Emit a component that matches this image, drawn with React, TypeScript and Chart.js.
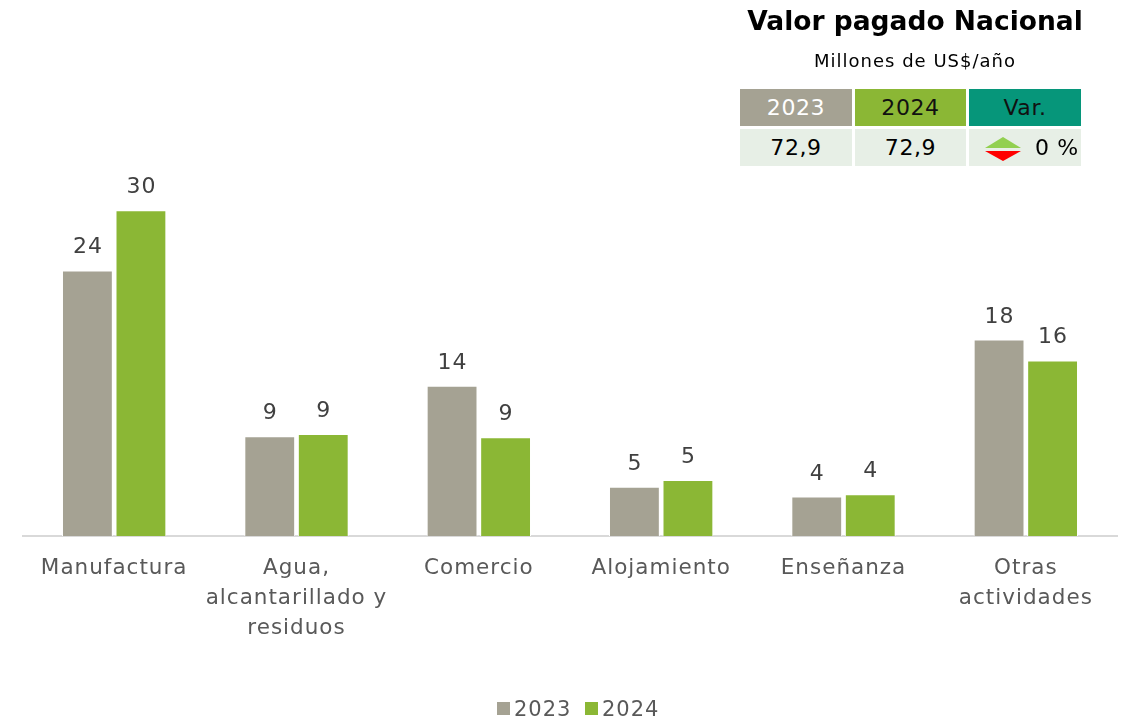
import React, { useEffect, useRef } from "react";
import { Chart, registerables } from "chart.js";

Chart.register(...registerables);

const categories: (string | string[])[] = [
  "Manufactura",
  ["Agua,", "alcantarillado y", "residuos"],
  "Comercio",
  "Alojamiento",
  "Enseñanza",
  ["Otras", "actividades"],
];
const values2023 = [24.2, 9.1, 13.7, 4.5, 3.6, 17.9];
const values2024 = [29.7, 9.3, 9.0, 5.1, 3.8, 16.0];
const seriesLabels = ["2023", "2024"];
const total2023 = "72,9";
const total2024 = "72,9";
const variation = "0 %";
const tableTitle = "Valor pagado Nacional";
const tableSubtitle = "Millones de US$/año";

const GRAY = "#A5A293";
const GREEN = "#8BB735";
const TEAL = "#06967A";
const LABEL_FONT = "'DejaVu Sans', sans-serif";

const spacingPlugin = {
  id: "letterSpacing",
  beforeInit(chart: any) {
    chart.ctx.letterSpacing = "1px";
  },
  beforeDraw(chart: any) {
    chart.ctx.letterSpacing = "1px";
  },
};

const dataLabelPlugin = {
  id: "dataLabels",
  afterDatasetsDraw(chart: any) {
    const ctx = chart.ctx;
    ctx.save();
    ctx.letterSpacing = "1px";
    ctx.font = `22px ${LABEL_FONT}`;
    ctx.fillStyle = "#404040";
    ctx.textAlign = "center";
    ctx.textBaseline = "alphabetic";
    chart.data.datasets.forEach((ds: any, di: number) => {
      const meta = chart.getDatasetMeta(di);
      meta.data.forEach((el: any, i: number) => {
        const v = ds.data[i];
        ctx.fillText(String(Math.round(v)), el.x + 0.5, el.y - 17);
      });
    });
    ctx.restore();
  },
};

export default function App() {
  const canvasRef = useRef<HTMLCanvasElement>(null);

  useEffect(() => {
    if (!canvasRef.current) return;
    const chart = new Chart(canvasRef.current, {
      type: "bar",
      data: {
        labels: categories as any,
        datasets: [
          {
            label: seriesLabels[0],
            data: values2023,
            backgroundColor: GRAY,
            borderColor: "#ffffff",
            borderWidth: 1,
            categoryPercentage: 0.587,
            barPercentage: 0.95,
          },
          {
            label: seriesLabels[1],
            data: values2024,
            backgroundColor: GREEN,
            borderColor: "#ffffff",
            borderWidth: 1,
            categoryPercentage: 0.587,
            barPercentage: 0.95,
          },
        ],
      },
      options: {
        responsive: false,
        animation: false,
        layout: { padding: { top: 152, left: 23, right: 18, bottom: 0 } },
        plugins: {
          legend: { display: false },
          tooltip: { enabled: false },
          title: { display: false },
        },
        scales: {
          x: {
            grid: { display: false, drawTicks: false },
            border: { display: true, color: "#D9D9D9", width: 2 },
            ticks: {
              color: "#595959",
              font: { family: LABEL_FONT, size: 21.5, lineHeight: 1.4 },
              padding: 17,
              maxRotation: 0,
              autoSkip: false,
            },
            afterFit(scale: any) {
              scale.height = 182;
            },
          },
          y: {
            display: false,
            min: 0,
            max: 35,
          },
        },
      },
      plugins: [spacingPlugin, dataLabelPlugin],
    });
    return () => chart.destroy();
  }, []);

  const cell: React.CSSProperties = {
    position: "absolute",
    height: 37,
    display: "flex",
    alignItems: "center",
    justifyContent: "center",
    fontFamily: LABEL_FONT,
    fontSize: 22,
    letterSpacing: "0.6px",
  };

  const legendText: React.CSSProperties = {
    position: "absolute",
    top: 696,
    fontFamily: LABEL_FONT,
    fontSize: 21,
    letterSpacing: "1px",
    color: "#595959",
    lineHeight: "26px",
  };

  return (
    <div style={{ position: "fixed", left: 0, top: 0, width: 1135, height: 718, background: "#fff" }}>
      <canvas ref={canvasRef} width={1135} height={718} style={{ display: "block" }} />
      <div
        style={{
          position: "absolute",
          left: 700,
          width: 430,
          top: 5,
          textAlign: "center",
          fontFamily: "'DejaVu Sans', sans-serif",
          fontWeight: "bold",
          fontSize: 26.5,
          color: "#000",
        }}
      >
        {tableTitle}
      </div>
      <div
        style={{
          position: "absolute",
          left: 700,
          width: 430,
          top: 50,
          textAlign: "center",
          fontFamily: LABEL_FONT,
          fontSize: 18,
          letterSpacing: "1px",
          color: "#000",
        }}
      >
        {tableSubtitle}
      </div>
      <div style={{ ...cell, left: 740, top: 89, width: 112, background: GRAY, color: "#fff" }}>{seriesLabels[0]}</div>
      <div style={{ ...cell, left: 855, top: 89, width: 111, background: GREEN, color: "#111" }}>{seriesLabels[1]}</div>
      <div style={{ ...cell, left: 969, top: 89, width: 112, background: TEAL, color: "#111" }}>Var.</div>
      <div style={{ ...cell, left: 740, top: 129, width: 112, background: "#E7EFE6", color: "#000" }}>{total2023}</div>
      <div style={{ ...cell, left: 855, top: 129, width: 111, background: "#E7EFE6", color: "#000" }}>{total2024}</div>
      <div style={{ ...cell, left: 969, top: 129, width: 112, background: "#E7EFE6", color: "#000", justifyContent: "flex-start" }}>
        <svg width={36} height={26} style={{ marginLeft: 16 }} viewBox="0 0 36 26">
          <polygon points="0,13 18,2 36,13" fill="#92D050" />
          <polygon points="0,16 36,16 18,26" fill="#FF0000" />
        </svg>
        <span style={{ marginLeft: 14 }}>{variation}</span>
      </div>
      <div style={{ position: "absolute", left: 497, top: 702, width: 13, height: 13, background: GRAY }} />
      <div style={{ ...legendText, left: 514 }}>{seriesLabels[0]}</div>
      <div style={{ position: "absolute", left: 585, top: 702, width: 13, height: 13, background: GREEN }} />
      <div style={{ ...legendText, left: 602 }}>{seriesLabels[1]}</div>
    </div>
  );
}
